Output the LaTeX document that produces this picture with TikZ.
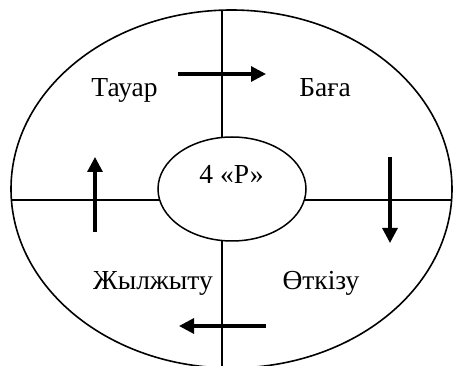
\documentclass[tikz,border=0pt]{standalone}
\usepackage{fontspec}
\setmainfont{Liberation Serif}
\usetikzlibrary{arrows.meta,shapes.geometric}
\begin{document}
\begin{tikzpicture}[x=1pt,y=-1pt,
  thin line/.style={line width=1.5pt},
  flow/.style={line width=3.2pt,-{Triangle[length=15pt,width=15pt]}},
  lbl/.style={font=\fontsize{27.5}{31}\selectfont,anchor=base,inner sep=0pt}]
\useasboundingbox (0,0) rectangle (453,366);
\clip (0,0) rectangle (453,366);
\fill[white] (0,0) rectangle (453,366);
% big ellipse
\node[draw,ellipse,line width=1.6pt,minimum width=441pt,minimum height=358pt,inner sep=0pt] (outer) at (231.5,189) {};
% dividing lines
\coordinate (hl) at (11,200);
\coordinate (hr) at (452,200);
\coordinate (vt) at (222,10);
\coordinate (vb) at (222,370);
\draw[thin line] (hl) -- (hr);
\draw[thin line] (vt) -- (vb);
% inner ellipse
\node[draw,fill=white,ellipse,thin line,minimum width=148pt,minimum height=104pt,inner sep=0pt] (core) at (232,189) {};
\node[lbl] (ctext) at (231.5,184) {4 «Р»};
% labels
\node[lbl] (tovar) at (124.5,96.5) {Тауар};
\node[lbl] (baga) at (325,96.5) {Баға};
\node[lbl] (zhyl) at (153,290) {Жылжыту};
\node[lbl] (otk) at (321,290) {Өткізу};
% arrows
\coordinate (a1s) at (178,74); \coordinate (a1e) at (266,74);
\coordinate (a2s) at (390,157); \coordinate (a2e) at (390,243);
\coordinate (a3s) at (266,326); \coordinate (a3e) at (179,326);
\coordinate (a4s) at (95,232); \coordinate (a4e) at (95,157);
\draw[flow] (a1s) -- (a1e);
\draw[flow] (a2s) -- (a2e);
\draw[flow] (a3s) -- (a3e);
\draw[flow] (a4s) -- (a4e);
\end{tikzpicture}
\end{document}
